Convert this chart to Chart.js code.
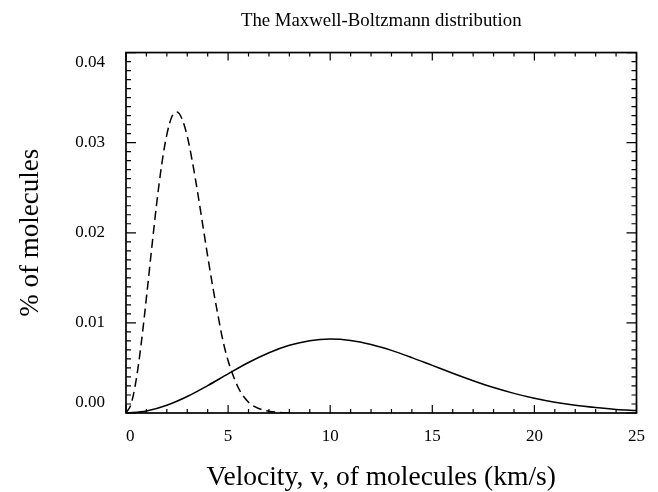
<!DOCTYPE html>
<html><head><meta charset="utf-8">
<script src="https://cdn.jsdelivr.net/npm/chart.js@4.4.0/dist/chart.umd.min.js"></script>
<style>html,body{margin:0;padding:0;background:#fff}#wrap{width:658px;height:492px}</style>
</head><body><div id="wrap"><canvas id="c" width="658" height="492"></canvas></div>
<script>
const chartTitle = 'The Maxwell-Boltzmann distribution';
const xAxisTitle = 'Velocity, v, of molecules (km/s)';
const yAxisTitle = '% of molecules';
const xTickLabels = ['0', '5', '10', '15', '20', '25'];
const yTickLabels = ['0.00', '0.01', '0.02', '0.03', '0.04'];

const solidVelocity = [0,1,2,3,4,5,6,7,8,9,10,11,12,13,14,15,16,17,18,19,20,21,22,23,24,25];
const solidPercent = [0,0.00022,0.00086,0.00183,0.00304,0.00434,0.00560,0.00669,0.00752,0.00803,0.00820,0.00804,0.00760,0.00695,0.00615,0.00528,0.00441,0.00358,0.00282,0.00218,0.00163,0.00119,0.00085,0.00060,0.00040,0.00027];

const dashedVelocity = [0,0.25,0.5,0.75,1,1.25,1.5,1.75,2,2.25,2.5,2.75,3,3.25,3.5,3.75,4,4.25,4.5,4.75,5,5.5,6,6.5,7,7.5,8];
const dashedPercent = [0,0.0010,0.0037,0.0078,0.0128,0.0181,0.0232,0.0276,0.0309,0.0329,0.0334,0.0326,0.0307,0.0279,0.0246,0.0210,0.0174,0.0140,0.0109,0.0080,0.0058,0.0028,0.0012,0.0005,0.0002,0.00006,0];

const FONT = "'Liberation Serif', 'Times New Roman', serif";

const innerTicks = {
  id: 'innerTicks',
  afterDatasetsDraw(chart) {
    const {ctx, chartArea: a, scales: {x, y}} = chart;
    ctx.save();
    ctx.strokeStyle = '#000';
    ctx.lineWidth = 1.2;
    ctx.beginPath();
    for (let v = 0; v <= 25; v++) {
      const px = x.getPixelForValue(v);
      const len = v % 5 === 0 ? 8 : 4;
      ctx.moveTo(px, a.bottom); ctx.lineTo(px, a.bottom - len);
      ctx.moveTo(px, a.top); ctx.lineTo(px, a.top + len);
    }
    for (let k = 0; k <= 40; k++) {
      const py = y.getPixelForValue(k * 0.001);
      const len = k % 10 === 0 ? 10 : 5;
      ctx.moveTo(a.left, py); ctx.lineTo(a.left + len, py);
      ctx.moveTo(a.right, py); ctx.lineTo(a.right - len, py);
    }
    ctx.stroke();
    ctx.lineWidth = 1.7;
    ctx.strokeRect(a.left, a.top, a.right - a.left, a.bottom - a.top);
    ctx.restore();
  }
};

new Chart(document.getElementById('c'), {
  type: 'line',
  data: {
    datasets: [
      {
        data: solidVelocity.map((v, i) => ({x: v, y: solidPercent[i]})),
        borderColor: '#000', borderWidth: 1.5, pointRadius: 0,
        cubicInterpolationMode: 'monotone', fill: false
      },
      {
        data: dashedVelocity.map((v, i) => ({x: v, y: dashedPercent[i]})),
        borderColor: '#000', borderWidth: 1.5, borderDash: [9, 5], pointRadius: 0,
        cubicInterpolationMode: 'monotone', fill: false
      }
    ]
  },
  options: {
    responsive: false,
    devicePixelRatio: 1,
    animation: false,
    layout: {padding: {left: 0, right: 21, top: 0, bottom: 0}},
    plugins: {
      legend: {display: false},
      tooltip: {enabled: false},
      title: {
        display: true, text: chartTitle, fullSize: false, color: '#000',
        font: {family: FONT, size: 18.8, weight: 'normal'},
        padding: {top: 10, bottom: 20}
      }
    },
    scales: {
      x: {
        type: 'linear', min: 0, max: 25,
        ticks: {
          stepSize: 5, color: '#000', padding: 13, maxRotation: 0, autoSkip: false,
          font: {family: FONT, size: 17},
          callback: (v) => {
            const i = Math.round(v / 5);
            return i === 0 ? '\u2002' + xTickLabels[i] : xTickLabels[i];
          }
        },
        grid: {display: false, drawTicks: false},
        border: {display: false},
        title: {display: true, text: xAxisTitle, color: '#000', font: {family: FONT, size: 27.5, lineHeight: 1.0}, padding: {top: 0, bottom: 0}},
        afterFit: (s) => { s.height = 79; }
      },
      y: {
        min: 0, max: 0.04,
        ticks: {
          stepSize: 0.01, color: '#000', padding: 21,
          font: {family: FONT, size: 17},
          callback: (v, i, ticks) => {
            const label = yTickLabels[Math.round(v / 0.01)];
            if (i === ticks.length - 1) return ['', label];
            if (i === 0) return [label, ''];
            return label;
          }
        },
        grid: {display: false, drawTicks: false},
        border: {display: false},
        title: {display: true, text: yAxisTitle, color: '#000', font: {family: FONT, size: 27}, padding: {top: 15, bottom: 0}},
        afterFit: (s) => { s.width = 126; }
      }
    }
  },
  plugins: [innerTicks]
});
</script>
</body></html>
